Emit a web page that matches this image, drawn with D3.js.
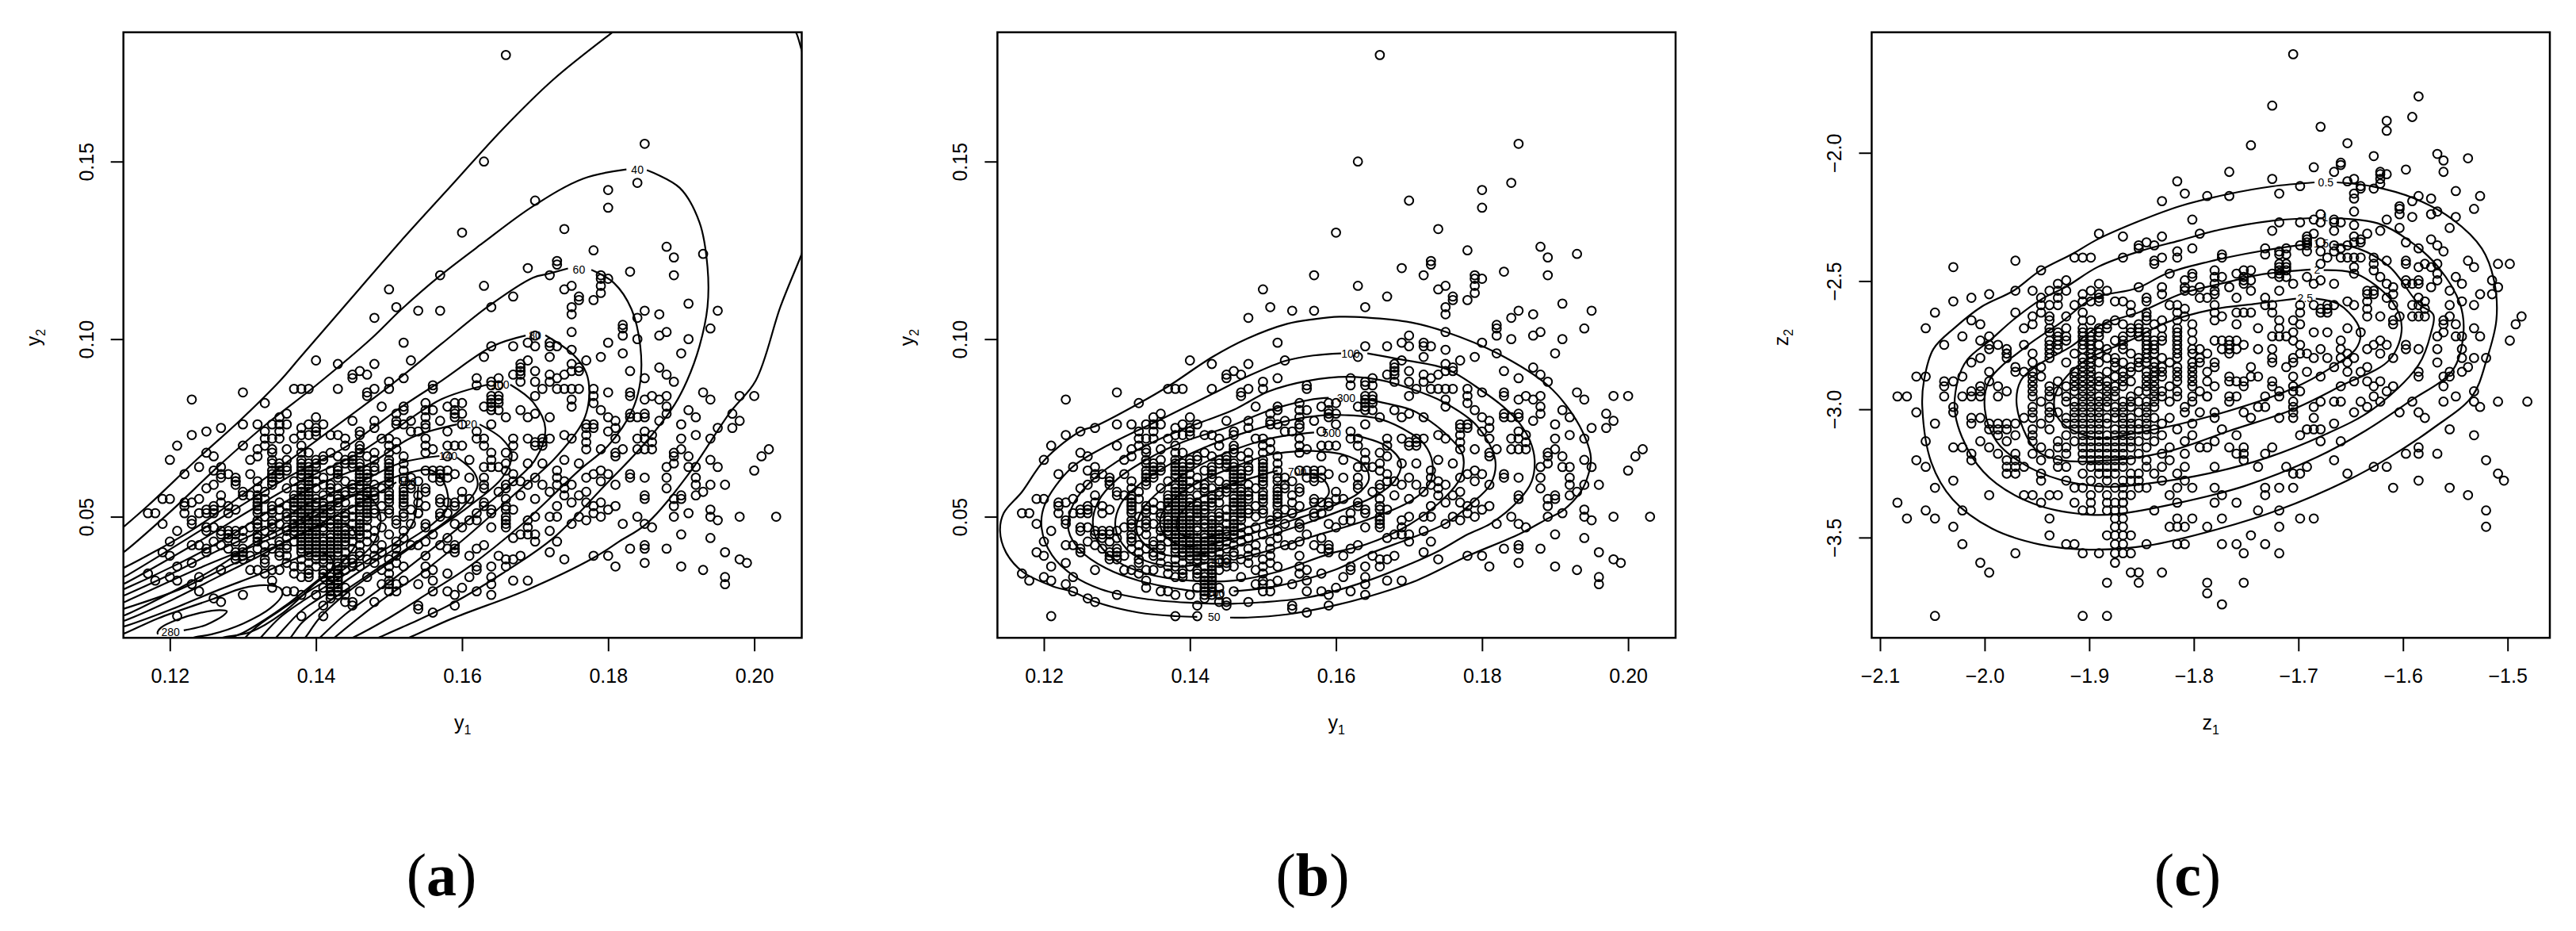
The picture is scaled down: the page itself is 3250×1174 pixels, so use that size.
<!DOCTYPE html>
<html lang="en">
<head>
<meta charset="utf-8">
<title>Density contours</title>
<script src="https://d3js.org/d3.v7.min.js"></script>
<style>
  html, body { margin: 0; padding: 0; background: #fff; }
  svg { display: block; }
  text { font-family: "Liberation Sans", Arial, sans-serif; fill: #000; }
  .caption { font-family: "Liberation Serif", serif; font-size: 76px; }
  .contour { fill: none; stroke: #000; stroke-width: 2.2; }
  .dot { fill: none; stroke: #000; stroke-width: 2; }
  .tick line { stroke: #000; stroke-width: 2; }
</style>
</head>
<body>
<script>
// sample, in thousandths: [y1, y2]
const sampleEdge = [
  [166,180],[185,155],[163,150],[184,144],[180,142],[170,139],[180,137],
  [174,131],[178,125],[188,126],[189,123],[193,124],[173,122],[173,121],[172,118],[179,118],[179,117],[180,117],[183,119],[189,118],
  [175,115],[174,114],[179,115],[179,113],[176,112],[176,111],[178,111],[191,110],[175,109],[175,107],[195,108],[185,108],[184,106],[187,107],
  [194,103],[182,104],[182,103],[182,101],[188,102],[187,101],[184,100],[191,100],[175,102],[180,99],[170,101],[170,98],[172,99],[172,98],[173,98],
  [175,97],[172,95],[179,95],[182,96],[190,96],[177,94],[175,93],[187,92],[175,91],[176,92],[176,91],[183,91],[188,90],[185,89],[170,91],
  [172,90],[172,88],[174,90],[173,89],[189,88],[170,88],[171,86],[173,86],[174,86],[175,86],[176,86],[178,86],[178,84],[178,82],[180,85],
  [183,85],[183,84],[193,85],[194,83],[198,84],[200,84],[186,84],[188,84],[187,83],[185,83],[175,83],[175,81],[170,84],[188,81],[188,79],
  [179,80],[191,80],[197,79],[183,79],[183,78],[184,78],[185,79],[185,78],[180,78],[181,77],[187,77],[192,78],[198,77],[172,78],[170,79],
  [190,76],[177,76],[177,75],[178,76],[178,75],[181,75],[195,75],[197,75],[185,74],[186,73],[180,74],[177,73],[174,73],[175,72],[181,72],
  [184,72],[190,72],[192,73],[194,72],[185,72],[186,71],[177,71],[172,72],[171,72],[171,71],[171,70],[170,71],[170,70],[177,69],[179,69],
  [182,69],[184,69],[185,69],[186,69],[190,69],[202,69],[189,68],[189,67],[189,65],[181,68],[181,67],[191,67],[201,67],[174,66],[194,66],
  [171,65],[176,65],[188,64],[191,64],[192,64],[195,64],[200,63],[173,63],[179,63],[178,62],[180,62],[183,62],[183,61],[177,61],[173,61],
  [185,61],[188,61],[192,61],[170,61],[179,60],[174,60],[171,59],[173,59],[175,59],[174,58],[181,59],[192,59],[194,59],[196,59],[188,58],
  [172,57],[177,57],[193,57],[185,56],[185,55],[190,56],[190,55],[189,55],[189,53],[192,56],[174,56],[176,56],[170,55],[175,54],[177,54],
  [179,54],[173,53],[178,53],[181,53],[180,52],[194,52],[194,50],[191,51],[178,51],[189,50],[184,50],[198,50],[203,50],[172,50],[173,50],
  [170,50],[176,50],[179,50],[177,49],[195,49],[185,48],[182,48],[175,48],[186,47],[172,46],[170,45],[170,43],[190,45],[194,44],[173,43],
  [185,42],[185,41],[183,41],[188,41],[172,40],[196,40],[178,39],[180,39],[174,38],[198,38],[199,37],[185,37],[181,36],[190,36],[193,35],
  [196,33],[196,31],
  [160,130],[169,120],[157,118],[163,115],[150,114],[167,112],[151,109],[164,109],[154,108],[157,108],[148,106],[169,99],[152,99],[164,98],
  [167,98],[163,95],[169,94],[140,94],[143,93],[148,93],[153,94],[168,93],[168,92],[168,91],[146,91],[147,90],[145,90],[145,89],[167,90],
  [152,89],[168,90],[168,88],[162,89],[162,87],[165,89],[165,87],[164,88],[164,87],[150,88],[150,86],[156,87],[156,86],[137,86],[138,86],
  [139,86],[143,86],[148,86],[130,85],[147,85],[147,84],[123,83],[133,82],[164,84],[165,84],[164,83],[165,83],[164,82],[165,82],[164,81],
  [164,80],[165,80],[163,81],[159,82],[160,82],[158,81],[155,82],[155,80],[155,78],[156,80],[152,81],[152,80],[149,81],[151,79],[159,80],
  [159,79],[159,78],[160,79],[168,80],[169,78],[166,78],[136,79],[135,78],[140,78],[145,77],[148,77],[157,77],[153,77],[151,77],[160,76],
  [164,76],[127,75],[130,76],[132,76],[134,76],[135,76],[136,76],[138,75],[139,76],[140,75],[141,76],[148,75],[155,76],
  [121,70],[123,73],[125,74],[120,66],[122,62],[124,64],[130,70],[131,66],[132,67],[133,74],[135,74],[133,72],[134,72],[135,72],[133,70],
  [134,69],[136,69],[134,68],[132,69],[138,73],[139,73],[140,74],[140,73],[137,72],[138,70],[142,73],[143,73],[144,72],[144,70],[146,74],
  [146,73],[146,70],[146,69],[149,72],[150,72],[151,76],[152,76],[151,71],[150,70],[151,69],[153,74],[154,74],[155,75],[155,72],[155,70],
  [155,68],[156,69],[158,74],[158,70],[159,70],[160,70],[162,74],[162,72],[163,72],[163,70],[164,68],[164,66],[167,72],[167,70],[169,72],
  [166,68],[166,65],[165,64],[163,64],[164,64],[167,67],[169,65],[167,62],[166,63],[161,66],[158,67],[159,62],[161,61],[163,61],[163,59],
  [163,58],[165,57],[166,59],[166,58],[167,60],[168,56],[169,59],[168,60],
  [125,68],[126,67],[127,64],[126,63],[127,62],[127,61],[128,62],[129,60],
  [156,63],[157,63],[158,63],[155,63],[157,62],[157,61],[157,60],[156,61],[158,61],[153,61],[153,59],[154,60],[153,58],[155,58],[155,57],[154,56],
  [155,53],[154,51],[159,54],[159,53],[160,57],[160,55],[161,55],[157,55],[157,54],[158,54],[158,51],[157,51],[157,50],[163,54],[163,53],
  [164,52],[164,51],[162,51],[162,49],[161,49],[159,48],[166,55],[166,53],[166,52],[167,52],[166,50],[166,49],[166,48],[166,47],[160,47],
  [164,47],[169,49],[169,47],[169,45],[168,45],[167,44],[155,48],[155,47],[155,43],[156,45],[154,42],[153,42],[158,44],[157,42],[159,42],
  [159,41],[159,40],[158,41],[162,41],[163,42],[161,39],[165,39],[166,38],[166,36],[167,38],[168,39],[155,39],[155,36],[155,34],[156,35],
  [162,36],[162,35],[164,36],[164,33],[164,31],[164,28],[161,33],[158,34],[156,32],[156,29],[154,31],[158,29],[160,30],[159,28],[162,29],
  [167,32],[169,32],[154,25],[154,24],[156,23],[159,25],
  [150,32],[150,31],[150,29],[149,31],[151,31],[151,29],[152,32],[152,36],[148,26],[146,29],[144,30],[144,28],[144,26],
  [145,26],[145,25],[142,32],[142,31],[142,30],[142,29],[142,28],[143,34],[143,32],[143,31],[143,30],[143,29],[143,28],[141,30],[142,27],
  [141,25],[138,22],[141,22],[136,29],[137,29],[138,28],[140,28],[134,32],[134,30],[118,32],[121,32],[123,31],[124,29],[126,27],[127,26],
  [130,28],[121,22]
];

// dense middle of the cloud, one row per y2 level
const coreLevels = [68,67,66,65,64,63,62,61,60,59,58,57,56,55,54,53,52,51,50,49,48,47,46,45,44,43,42,41,40,39,38,37,36,35,34,33];
const coreValues = [
  [138,139,142,146,148,150],
  [141,143,145,147,152],
  [134,136,138,140,141,144,145,148,150],
  [134,135,138,139,140,144,145,146,150,152],
  [135,136,138,139,140,143,145,146,148,150],
  [134,135,136,138,139,142,143,146,147,148,150,152],
  [131,134,135,138,139,140,143,146,147,150],
  [129,134,135,138,139,141,143,146,147,150,152],
  [129,132,134,137,139,140,144,146,147,150,152],
  [126,129,134,138,139,141,142,145,146,148,150],
  [125,132,136,138,139,140,142,143,145,146,147,149,152],
  [130,133,138,139,142,144,145,147,148,150,152],
  [127,130,131,132,137,138,139,141,143,144,146,147,148,150,152],
  [119,120,124,132,133,137,138,139,140,142,143,146,147,148,150,152],
  [122,123,127,132,135,137,138,139,140,141,143,144,146,147,150,152,154],
  [122,126,128,132,134,136,137,138,139,140,141,142,143,146,147,149,152],
  [125,126,129,132,134,135,137,138,139,141,142,145,146,147,148,150,153],
  [117,118,122,124,125,126,128,132,134,136,138,139,140,141,142,144,147,148,150,152,154],
  [133,136,137,138,139,140,141,143,144,145,146,147,149,152],
  [123,132,134,137,138,139,140,141,142,143,144,146,147,151],
  [119,123,132,134,135,137,138,139,140,142,143,145,146,151,153],
  [125,126,131,132,134,136,137,138,139,140,141,142,143,144,146,147,149],
  [121,125,127,128,129,130,133,136,137,138,139,140,141,143,144,145,146,148,152],
  [127,128,129,132,134,137,138,139,140,142,143,144,145,146,147,150],
  [128,130,132,136,138,139,140,141,142,143,144,146,148,152],
  [120,126,129,132,135,137,138,139,140,141,142,143,144,145,147,151],
  [123,124,127,133,135,136,138,139,140,141,142,143,144,146,149],
  [125,128,130,132,134,136,138,139,140,141,142,143,145,148,151],
  [119,125,129,130,133,135,138,139,140,141,142,143,144,146,149],
  [120,129,130,131,135,136,139,140,141,142,143,146,148,151],
  [129,130,133,138,140,141,142,144,145,147,150],
  [123,133,136,139,141,143,144,145,148,151],
  [121,137,138,140,142,143,145,146,150],
  [127,131,132,134,135,139,141,143,144,149],
  [117,133,137,139,141,142,143,150],
  [120,124,138,139,141,142,143,147]
];

const sample = sampleEdge.concat(coreLevels.flatMap((lev, i) => coreValues[i].map(v => [v, lev])))
  .map(d => [d[0] / 1000, d[1] / 1000]);

// (c) is the same sample on the transformed scale
const toZ = v => Math.log(v / Math.sqrt(1 - v));
const sampleZ = sample.map(d => [toZ(d[0]), toZ(d[1])]);

// contour lines of (a), thousandths. each runs from one side of its label to the other
const contoursA = [
  [[113.6,47],[117.1,53.3],[124,66.7],[129.6,77.1],[135.1,88.3],[137.9,95],[144.8,111.4],[151.7,127.8],[158.6,143.4],[165.5,159],[172.5,173.1],[180.6,186.4],[183,190]],
  [[205,188],[205.7,186.4],[206.5,181.3],[207,178]],
  [[207,127],[206.5,124],[203.6,109.2],[200.2,88.3],[196.7,79.4],[191,62],[185.3,48.1],[181.5,43],[178,38.4],[169,29.5],[158.6,21.3],[152.7,15.9],[151.5,15]],
  [[113,39.3],[113.6,39.9],[119.9,51.1],[126.8,64.5],[133,75.7],[139.9,86.8],[147.6,100.2],[151.7,108.4],[156.9,117.7],[162.8,127],[169.7,137.4],[176.6,145.2],[182.5,147.8]],
  [[185.3,147.6],[189.8,142.6],[192.5,132.9],[193.6,120.3],[193.6,109.1],[192.5,98],[190.8,88.3],[189.1,81.6],[184.9,70.4],[179.4,58.5],[172.5,44],[165.5,34],[158.6,25.5],[153,20],[148.5,15.9],[147.5,15]],
  [[113,35],[113.6,35.5],[123.3,46.6],[131,57.8],[137.9,68.2],[144.8,78.6],[151,88.3],[157.2,98.7],[163.5,109.1],[169.7,117.3],[171.8,118.4],[174.5,119.9]],
  [[177.7,119.5],[180.8,115.8],[183.2,108.4],[184.4,98],[184.4,88],[183.3,80],[180,70],[176,63],[168,47.5],[161,36],[155,28],[150,21.5],[145,15.9],[144,15]],
  [[113,32.4],[113.6,32.9],[127.5,50.3],[136.5,61.5],[144.1,69.7],[151.7,80.9],[157.2,88.3],[164.2,98],[168.7,101]],
  [[171.4,101.1],[175.2,95.7],[177,90.5],[177.4,83.8],[176.6,77],[172.5,66],[167,56],[161,45],[155,35],[149,26.5],[142.5,15.9],[142,15]],
  [[113,30.5],[113.6,31],[123.3,42.2],[131,51.8],[137.9,60],[145.5,67.5],[151,74.9],[157.2,83.1],[163.5,87.2]],
  [[166.6,87.2],[169.7,82.3],[171.4,74.9],[170,66],[166,58],[160.5,48.5],[155,39.5],[149,30],[144,22.5],[140.5,15.9],[140,15]],
  [[113,29],[113.6,29.5],[120.6,36.2],[127.5,43.7],[134.4,52.6],[140.6,59.3],[147.6,65.2],[153.1,72.3],[159.3,76]],
  [[162.4,76],[165.5,71.9],[166.8,67.5],[165.5,61],[161,53],[155.5,45],[150,37],[144.5,29],[140.5,21.5],[138.5,15.9],[138,15]],
  [[113,27.2],[113.6,27.7],[119.9,33.6],[126.1,40],[133,46.6],[140,54.8],[146.2,60],[151.7,65.2],[156.9,67.1]],
  [[159.3,66.7],[161.7,62.3],[162.1,58.5],[160,52.5],[156,46],[151,39],[146,32],[141,25],[138,20],[136.5,15.9],[136,15]],
  [[113,25.3],[113.6,25.8],[124,35.5],[134.4,44.4],[141.3,51.8],[147.6,58.5],[153.1,62.6],[155.9,63],[157.6,59.3],[158,52.6],[156,48],[152,42.5],[147,36],[142,29],[138,23.5],[134.5,15.9],[134,15]],
  [[113,23.6],[113.6,24],[121.3,29.5],[128.9,36.9],[135.8,42.9],[142.7,50.3],[147.6,55.6],[151,59.7]],
  [[154,58.5],[153.8,53.3],[153.4,48.9],[152,44.5],[148,39],[143,32.5],[138,26],[135,21.5],[132.4,15.9],[132,15]],
  [[113,21.8],[113.6,22.1],[120.3,28.8],[126.8,36.2],[131.8,42.9],[137.6,48.9],[141.9,54],[145.6,56.3],[147.7,54.8],[148.8,50.4],[148.6,45.9],[147.5,41.5],[144,35.5],[139,29],[135,23.5],[132.5,20],[130.3,15.9],[130,15]],
  [[113,20.3],[113.6,20.6],[120.3,26.6],[126.8,33.3],[132.5,39.2],[137.6,44.8],[141.9,48.1],[144.5,47.4],[145.6,43.7],[144,38],[140.5,32.5],[136.5,26],[133,21],[130,17.3],[128.2,15.9],[127,15]],
  [[113,18.7],[113.6,19],[120.3,24],[126.8,29.5],[132.5,34],[137.6,38.5],[140.5,40],[142.3,37.7],[142,34.8],[139.8,31],[135.4,22.8],[131.1,17.6],[127.3,16],[125.5,15]],
  [[113,16.7],[113.6,17],[118.4,21.4],[126,26.9],[130,29.9],[133.3,30.7],[135.1,29.9],[135.4,28.1],[133.8,24.3],[130,19.9],[125.7,16.9],[123.5,16.1],[122,15]],
  [[121.9,18],[124.9,19.5],[127.5,22.5],[127.8,23.4],[126.8,23.7],[123.9,22.8],[121,21],[118.8,18.8],[118.3,17.3],[118.4,16.9]]
];
const labelsA = [["40",184,147.8],["60",176,119.6],["80",170,101],["100",165.2,87.2],["120",160.8,76],["140",158.1,67.1],["180",152.5,59.7],["280",120.1,17.5]];

// contour lines of (b), outermost first
const contoursB = [
  [[141,21.8],[138.1,22],[133,23],[127.1,26],[124,28.8],[121.1,30.5],[117.1,34.5],[114.8,40],[114,46],[114.5,51],[117,57],[120.1,66],[125.1,74.2],[127.05,75.5],[133.1,82],[137.1,86.8],[143.1,95],[147.9,100.2],[153.3,104.3],[156.9,105.6],[160.5,106.3],[164.1,106.1],[170.3,104.7],[175.1,102],[182.1,96],[189.1,86.8],[192.2,79.4],[194.2,71.9],[194.9,66.7],[194.6,62.2],[193.5,57],[191.1,51.8],[189.1,49.6],[185.1,45.1],[178.1,39],[171,32],[164.1,27.3],[159.1,24.7],[153.3,22.5],[147.9,21.6],[145.5,21.6]],
  [[164.3,96],[169.1,94.2],[175.1,91.6],[180.1,85.3],[183,80.8],[185.1,76.4],[186.6,71.2],[187.2,66],[186.8,60],[185.1,54.8],[181.2,48.1],[178.1,45.1],[174,40.3],[171.4,37.8],[164.1,31.8],[156.2,27.3],[149.7,25.9],[145.7,25.5],[139.7,25.8],[133.7,26.9],[127.8,29.6],[124.1,33.3],[121.1,39.2],[119.7,46.7],[120.1,53.3],[123.8,63.8],[129.1,70.5],[136.1,77.5],[143.1,84.6],[148.2,89.8],[153.1,93.9],[156.9,95.4],[160.7,96]],
  [[141.5,28.9],[139,29.5],[133,32],[128.5,35.5],[125,40.5],[123.4,46],[123.8,52.5],[126,59],[130,65.5],[136,72],[141.3,76.4],[146,80.1],[150.8,85.3],[156.2,88.3],[161.6,89.4],[166,88.5],[170.3,86],[174.6,82.4],[179.3,75.6],[181.8,66],[181.2,59.3],[178.3,53.3],[175,48.1],[170.3,44],[164.5,39.5],[159.8,35],[152,30.5],[146,29]],
  [[163.5,83.3],[166,82.3],[170.3,80.1],[172.1,78],[175,73.4],[177.2,68.2],[177.5,65.2],[177,60.8],[175,55.6],[170.3,48.1],[164.1,42.2],[159,39.5],[152,34.5],[146,32],[140,32],[134,34],[130,37.5],[127.5,42.5],[126.7,48.5],[127.5,54.5],[130,60.5],[134,66],[139,71],[145.3,75.3],[151.1,80.1],[156.9,83.1],[159,83.5]],
  [[142,36.8],[138,36],[134,37.5],[131.3,41],[129.8,47],[130.5,53.5],[133,59],[137,64.5],[142,69.5],[148,74],[154,77.3],[158,78.5],[161.2,78.6],[166,77.5],[170.3,73.4],[172.1,70.4],[173.2,65.2],[172.8,59.3],[170.3,54.5],[164.1,49],[156.9,44.5],[150,40],[146.5,38.2]],
  [[162,73.2],[166.8,70],[168.9,65],[168,60],[165.5,56],[161,52],[155,47.5],[149,43.5],[143,40],[138,38.8],[134.5,41],[132.7,46],[133.5,52],[136,57.5],[140,63],[145,68],[151,72],[157,73.7]],
  [[156,68.6],[161,67.5],[163.8,64.5],[164.5,60.5],[163,56.5],[159.5,53],[154,49],[148,45],[142,42],[138.5,42],[136.3,45.5],[136,50],[137.8,55],[141,59.5],[146,64],[151,67.5],[156,68.6]],
  [[156.5,62.3],[158.5,60],[159,56.5],[157,53],[152,49.5],[146,46],[141,44],[138.5,45.5],[138.3,49.5],[140,53.5],[143,57],[147,60],[152,63]]
];
const labelsB = [["50",143.3,21.8],["100",162,96],["200",143.5,28.5],["300",161.4,83.4],["400",144.2,37.4],["500",159.4,73.6],["700",154.7,62.7]];

// contour lines of (c), in z units
const contoursC = [
  [[-1.6632,-2.1153],[-1.629,-2.131],[-1.5896,-2.177],[-1.5524,-2.26],[-1.5246,-2.373],[-1.513,-2.497],[-1.5107,-2.651],[-1.52,-2.806],[-1.534,-2.95],[-1.571,-3.073],[-1.613,-3.187],[-1.6545,-3.28],[-1.7195,-3.393],[-1.775,-3.465],[-1.845,-3.532],[-1.9005,-3.547],[-1.947,-3.527],[-1.993,-3.465],[-2.0304,-3.352],[-2.051,-3.207],[-2.0596,-2.991],[-2.058,-2.888],[-2.049,-2.765],[-2.028,-2.68],[-2.0029,-2.6],[-1.9726,-2.538],[-1.9473,-2.4604],[-1.9158,-2.3935],[-1.8918,-2.3368],[-1.8513,-2.2647],[-1.8135,-2.208],[-1.768,-2.1616],[-1.725,-2.1307],[-1.6846,-2.1153]],
  [[-1.6657,-2.2544],[-1.624,-2.275],[-1.5942,-2.342],[-1.5664,-2.445],[-1.5455,-2.589],[-1.5422,-2.703],[-1.5524,-2.847],[-1.594,-2.97],[-1.636,-3.084],[-1.6824,-3.187],[-1.752,-3.3],[-1.8169,-3.367],[-1.8726,-3.408],[-1.9,-3.411],[-1.947,-3.377],[-1.9886,-3.29],[-2.0118,-3.187],[-2.028,-3.022],[-2.0257,-2.888],[-2.0165,-2.806],[-1.994,-2.7283],[-1.9726,-2.651],[-1.9448,-2.5686],[-1.9221,-2.5223],[-1.8918,-2.445],[-1.8513,-2.3832],[-1.8135,-2.342],[-1.7756,-2.3],[-1.725,-2.2647],[-1.6872,-2.2544]],
  [[-1.6669,-2.3574],[-1.6429,-2.373],[-1.6127,-2.445],[-1.585,-2.589],[-1.571,-2.631],[-1.5733,-2.703],[-1.585,-2.826],[-1.629,-3],[-1.6777,-3.104],[-1.7288,-3.187],[-1.7844,-3.249],[-1.8448,-3.29],[-1.8819,-3.302],[-1.9283,-3.274],[-1.9654,-3.207],[-1.9886,-3.125],[-1.9998,-3.001],[-1.9956,-2.888],[-1.96,-2.754],[-1.927,-2.6614],[-1.8968,-2.5686],[-1.8539,-2.5274],[-1.8261,-2.4707],[-1.7857,-2.4244],[-1.7503,-2.3935],[-1.7124,-2.3677],[-1.6872,-2.3554]],
  [[-1.6758,-2.4574],[-1.6452,-2.471],[-1.6104,-2.579],[-1.6012,-2.682],[-1.6127,-2.806],[-1.6592,-2.9086],[-1.7056,-3.001],[-1.7659,-3.084],[-1.8262,-3.166],[-1.8912,-3.202],[-1.9283,-3.197],[-1.9515,-3.156],[-1.9691,-2.991],[-1.9654,-2.888],[-1.95,-2.83],[-1.917,-2.754],[-1.8892,-2.6717],[-1.8513,-2.62],[-1.8109,-2.548],[-1.7705,-2.507],[-1.7377,-2.476],[-1.7124,-2.4635],[-1.6884,-2.4553]],
  [[-1.6834,-2.5686],[-1.6619,-2.5893],[-1.6442,-2.6614],[-1.6406,-2.713],[-1.6452,-2.765],[-1.6684,-2.837],[-1.7056,-2.919],[-1.7798,-3.022],[-1.8448,-3.0838],[-1.8958,-3.1095],[-1.9283,-3.0426],[-1.933,-2.95],[-1.9097,-2.8263],[-1.8564,-2.7232],[-1.8261,-2.6614],[-1.7806,-2.6098],[-1.7427,-2.5893],[-1.7023,-2.5686]]
];
const labelsC = [["0.5",-1.6738,-2.1153],["1",-1.6745,-2.2523],["1.5",-1.6783,-2.3523],["2",-1.6821,-2.4553],["2.5",-1.6935,-2.5666]];

const yTicksValues = [0.05, 0.10, 0.15];
const xTicksValues = [0.12, 0.14, 0.16, 0.18, 0.20];
const zxTicksValues = [-2.1, -2.0, -1.9, -1.8, -1.7, -1.6, -1.5];
const zyTicksValues = [-3.5, -3.0, -2.5, -2.0];

const width = 3250, height = 1174;
const frameTop = 40.7, frameBottom = 804.3;

const svg = d3.select("body").append("svg").attr("width", width).attr("height", height);

function addTitle(g, x, y, letter, rotate) {
  const t = g.append("text").attr("text-anchor", "middle").attr("font-size", 25)
    .attr("transform", `translate(${x},${y})` + (rotate ? " rotate(-90)" : ""));
  t.append("tspan").text(letter);
  t.append("tspan").attr("font-size", 16).attr("dy", 6).text(rotate ? "2" : "1");
}

function drawPanel(o) {
  const x = d3.scaleLinear().domain(o.xDomain).range([o.left, o.right]);
  const y = d3.scaleLinear().domain(o.yDomain).range([frameBottom, frameTop]);
  const g = svg.append("g");

  const clipId = "clip" + o.name;
  g.append("clipPath").attr("id", clipId).append("rect")
    .attr("x", o.left).attr("y", frameTop).attr("width", o.right - o.left).attr("height", frameBottom - frameTop);

  g.append("g").selectAll("circle").data(o.points).enter().append("circle")
    .attr("class", "dot").attr("r", 5.4)
    .attr("cx", d => x(d[0])).attr("cy", d => y(d[1]));

  const line = d3.line().x(d => x(o.scale * d[0])).y(d => y(o.scale * d[1])).curve(d3.curveCatmullRom);
  g.append("g").attr("clip-path", `url(#${clipId})`).selectAll("path").data(o.contours).enter().append("path")
    .attr("class", "contour").attr("d", line);

  g.append("g").selectAll("text").data(o.labels).enter().append("text")
    .attr("text-anchor", "middle").attr("font-size", 14).attr("dy", "0.36em")
    .attr("x", d => x(o.scale * d[1])).attr("y", d => y(o.scale * d[2])).text(d => d[0]);

  g.append("rect").attr("x", o.left).attr("y", frameTop).attr("width", o.right - o.left).attr("height", frameBottom - frameTop)
    .attr("fill", "none").attr("stroke", "#000").attr("stroke-width", 2.5);

  const fmt = d => d3.format(".2f")(d);
  const xAxis = g.append("g").attr("transform", `translate(0,${frameBottom})`)
    .call(d3.axisBottom(x).tickValues(o.xTicks).tickSize(17).tickSizeOuter(0).tickPadding(22).tickFormat(o.xFormat || fmt));
  xAxis.select(".domain").remove();
  xAxis.attr("font-family", null);
  xAxis.selectAll("text").attr("font-size", 25);

  const yAxis = g.append("g").attr("transform", `translate(${o.left},0)`)
    .call(d3.axisLeft(y).tickValues(o.yTicks).tickSize(16).tickSizeOuter(0).tickFormat(o.yFormat || fmt));
  yAxis.select(".domain").remove();
  yAxis.attr("font-family", null);
  yAxis.selectAll("text").attr("font-size", 25)
    .attr("x", null).attr("dy", null).attr("text-anchor", "middle")
    .attr("transform", "translate(-38,0) rotate(-90)");

  addTitle(g, (o.left + o.right) / 2, 920, o.letter, false);
  addTitle(g, o.left - 105, (frameTop + frameBottom) / 2 + 3, o.letter, true);

  const cap = g.append("text").attr("class", "caption").attr("text-anchor", "middle")
    .attr("x", o.capX).attr("y", 1129);
  cap.append("tspan").text("(");
  cap.append("tspan").attr("font-weight", "bold").text(o.cap);
  cap.append("tspan").text(")");
}

const yLim = [0.0159, 0.1864];
const xLim = [0.11364, 0.2065];
const oneDec = d => d3.format(".1f")(d);

drawPanel({ name: "a", left: 155.7, right: 1011.5, xDomain: xLim, yDomain: yLim, points: sample, contours: contoursA, labels: labelsA, scale: 0.001,
  xTicks: xTicksValues, yTicks: yTicksValues, letter: "y", cap: "a", capX: 557 });
drawPanel({ name: "b", left: 1258.4, right: 2114, xDomain: xLim, yDomain: yLim, points: sample, contours: contoursB, labels: labelsB, scale: 0.001,
  xTicks: xTicksValues, yTicks: yTicksValues, letter: "y", cap: "b", capX: 1656 });
drawPanel({ name: "c", left: 2361.4, right: 3217, xDomain: [-2.108, -1.4596], yDomain: [-3.891, -1.53], points: sampleZ, contours: contoursC, labels: labelsC, scale: 1,
  xTicks: zxTicksValues, yTicks: zyTicksValues, xFormat: oneDec, yFormat: oneDec, letter: "z", cap: "c", capX: 2760 });
</script>
</body>
</html>
